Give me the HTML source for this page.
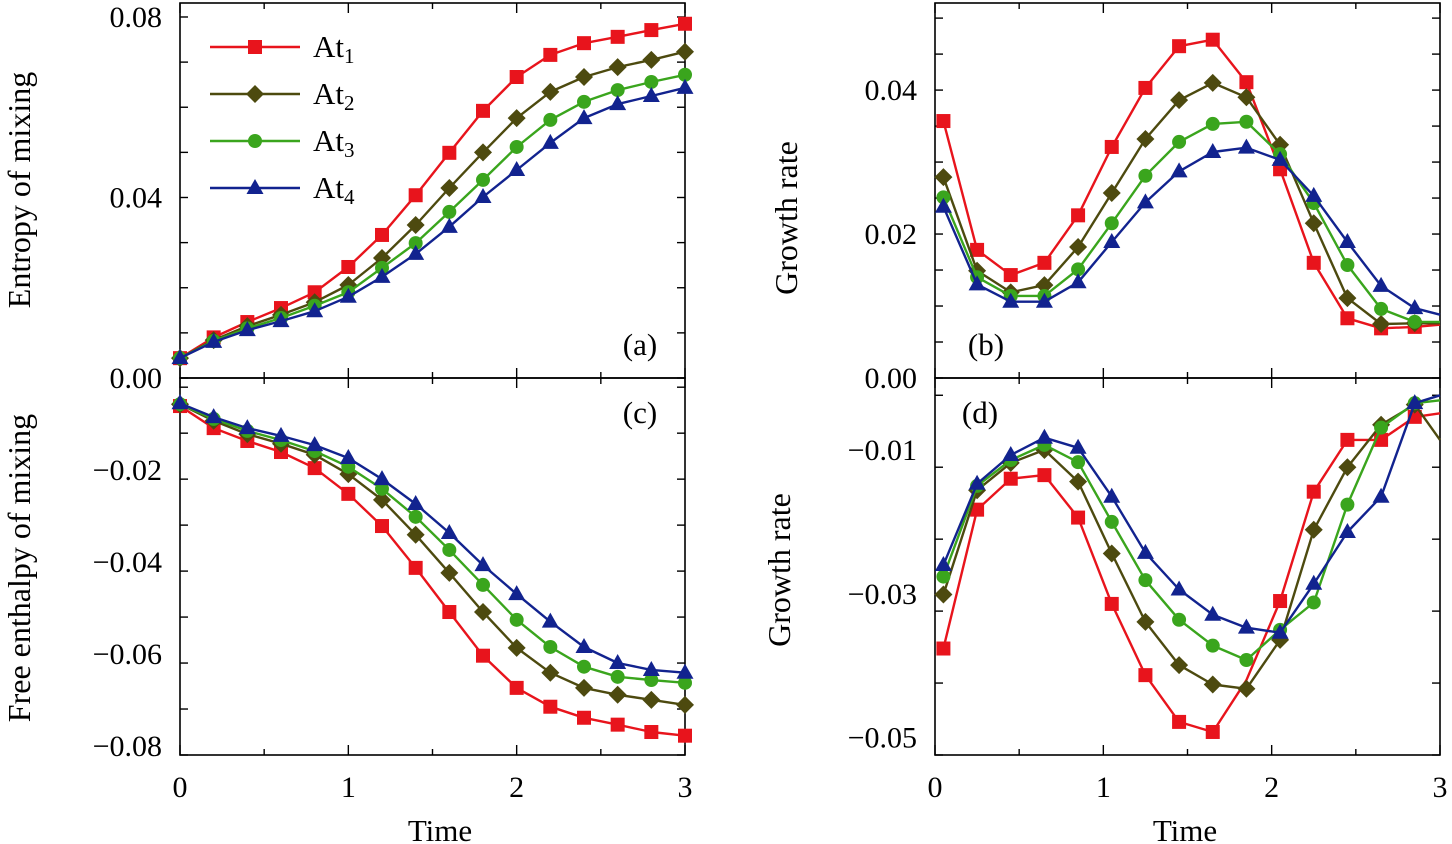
<!DOCTYPE html>
<html><head><meta charset="utf-8">
<style>
html,body{margin:0;padding:0;background:#fff;}
svg{display:block;font-family:"Liberation Serif",serif;}
</style></head>
<body>
<svg id="chart" width="1452" height="844" viewBox="0 0 1452 844" xmlns="http://www.w3.org/2000/svg"></svg>
<script>
const xsLeft = [0,0.2,0.4,0.6,0.8,1.0,1.2,1.4,1.6,1.8,2.0,2.2,2.4,2.6,2.8,3.0];
const xsRight = [0.05,0.25,0.45,0.65,0.85,1.05,1.25,1.45,1.65,1.85,2.05,2.25,2.45,2.65,2.85,3.0];
const seriesNames = ["At1","At2","At3","At4"];
const entropyAt1 = [0.0044,0.009,0.0124,0.0155,0.019,0.0246,0.0317,0.0405,0.0499,0.0592,0.0667,0.0716,0.0742,0.0756,0.0771,0.0785];
const entropyAt2 = [0.0044,0.0084,0.0115,0.014,0.0168,0.0206,0.0266,0.0339,0.0421,0.05,0.0576,0.0634,0.0667,0.0689,0.0705,0.0723];
const entropyAt3 = [0.0044,0.0082,0.011,0.0133,0.016,0.019,0.0244,0.0299,0.0368,0.0439,0.0512,0.0572,0.0612,0.0638,0.0656,0.0672];
const entropyAt4 = [0.0044,0.008,0.0106,0.0126,0.0148,0.018,0.0224,0.0275,0.0335,0.0401,0.0461,0.0521,0.0576,0.0607,0.0625,0.0643];
const growthBAt1 = [0.0357,0.0178,0.0143,0.016,0.0226,0.0321,0.0403,0.0461,0.047,0.0411,0.029,0.016,0.0083,0.0069,0.0071,0.0074];
const growthBAt2 = [0.0279,0.0149,0.0119,0.0129,0.0182,0.0257,0.0332,0.0386,0.041,0.039,0.0324,0.0215,0.0111,0.0075,0.0076,0.0076];
const growthBAt3 = [0.0251,0.014,0.0114,0.0114,0.0151,0.0215,0.0281,0.0328,0.0353,0.0356,0.0311,0.0243,0.0157,0.0096,0.0078,0.0078];
const growthBAt4 = [0.0238,0.013,0.0106,0.0106,0.0133,0.0189,0.0244,0.0287,0.0314,0.032,0.0303,0.0253,0.0189,0.0128,0.0097,0.0088];
const enthalpyAt1 = [-0.0061,-0.0109,-0.0137,-0.0161,-0.0196,-0.0252,-0.0322,-0.0413,-0.0509,-0.0604,-0.0674,-0.0715,-0.0739,-0.0754,-0.077,-0.0778];
const enthalpyAt2 = [-0.0057,-0.0093,-0.0122,-0.0143,-0.0167,-0.0209,-0.0265,-0.0341,-0.0424,-0.0509,-0.0587,-0.0641,-0.0674,-0.0689,-0.07,-0.0711];
const enthalpyAt3 = [-0.0057,-0.0089,-0.0115,-0.0135,-0.0159,-0.0193,-0.0241,-0.0302,-0.0374,-0.045,-0.0526,-0.0585,-0.0628,-0.065,-0.0657,-0.0663];
const enthalpyAt4 = [-0.0055,-0.0085,-0.0109,-0.0126,-0.0146,-0.0174,-0.022,-0.0274,-0.0337,-0.0407,-0.047,-0.053,-0.0585,-0.062,-0.0635,-0.0641];
const growthDAt1 = [-0.0376,-0.0183,-0.014,-0.0135,-0.0194,-0.0314,-0.0413,-0.0478,-0.0492,-0.042,-0.0310,-0.0158,-0.0086,-0.0086,-0.0054,-0.0049];
const growthDAt2 = [-0.0301,-0.0156,-0.0118,-0.01,-0.0144,-0.0244,-0.0339,-0.0399,-0.0426,-0.0432,-0.0364,-0.0211,-0.0124,-0.0065,-0.0037,-0.0086];
const growthDAt3 = [-0.0276,-0.015,-0.0114,-0.0093,-0.0117,-0.02,-0.0281,-0.0336,-0.0372,-0.0392,-0.035,-0.0312,-0.0176,-0.0069,-0.0035,-0.0031];
const growthDAt4 = [-0.026,-0.0147,-0.0107,-0.0083,-0.0097,-0.0165,-0.0243,-0.0294,-0.0329,-0.0347,-0.0354,-0.0286,-0.0214,-0.0165,-0.0035,-0.0024];
const xTickLabels = ["0","1","2","3"];
const yTicksA = ["0.00","0.04","0.08"];
const yTicksB = ["0.00","0.02","0.04"];
const yTicksC = ["\u22120.02","\u22120.04","\u22120.06","\u22120.08"];
const yTicksD = ["\u22120.01","\u22120.03","\u22120.05"];

const colors = ["#e8141c","#4d4a0f","#3aa51d","#12238f"];
const NS = "http://www.w3.org/2000/svg";
const svg = document.getElementById("chart");
function el(tag, attrs, parent){
  const e = document.createElementNS(NS, tag);
  for (const k in attrs) e.setAttribute(k, attrs[k]);
  (parent||svg).appendChild(e);
  return e;
}
function panel(cfg){
  const g = el("g", {});
  
  
  const sx = v => cfg.x0 + (v - 0) / 3 * (cfg.x1 - cfg.x0);
  const sy = v => cfg.y1 - (v - cfg.ymin) / (cfg.ymax - cfg.ymin) * (cfg.y1 - cfg.y0);
  const fr = el("rect", {x:cfg.x0, y:cfg.y0, width:cfg.x1-cfg.x0, height:cfg.y1-cfg.y0, fill:"none", stroke:"#000", "stroke-width":1.6}, g);
  
  
  for (let t = 0; t <= 3.001; t += 0.5) {
    const X = sx(t); const L = (Math.abs(t - Math.round(t)) < 1e-6) ? 10 : 6;
    el("line", {x1:X, x2:X, y1:cfg.y1, y2:cfg.y1-L, stroke:"#000", "stroke-width":1.4}, g);
    el("line", {x1:X, x2:X, y1:cfg.y0, y2:cfg.y0+L, stroke:"#000", "stroke-width":1.4}, g);
  }
  for (let v = cfg.ymin; v <= cfg.ymax + 1e-9; v += cfg.minor) {
    const Y = sy(v);
    el("line", {x1:cfg.x0, x2:cfg.x0+8, y1:Y, y2:Y, stroke:"#000", "stroke-width":1.4}, g);
    el("line", {x1:cfg.x1, x2:cfg.x1-8, y1:Y, y2:Y, stroke:"#000", "stroke-width":1.4}, g);
  }
  cfg.yLabels.forEach((lab, i) => {
    const v = cfg.yLabelVals[i];
    const t = el("text", {x:cfg.x0-18, y:sy(v)+10, "text-anchor":"end", "font-size":30}, g);
    t.textContent = lab;
    
    
  });
  if (cfg.xLabels) {
    xTickLabels.forEach((lab, i) => {
      const t = el("text", {x:sx(i), y:cfg.y1+42, "text-anchor":"middle", "font-size":30}, g);
      t.textContent = lab;
      
      
    });
  }
  cfg.series.forEach((vals, si) => {
    const xs = cfg.xs;
    const pts = vals.map((v, i) => sx(xs[i]).toFixed(1) + "," + sy(v).toFixed(1)).join(" ");
    const sg = el("g", {}, g);
    
    
    el("polyline", {points:pts, fill:"none", stroke:colors[si], "stroke-width":2.4, "stroke-linejoin":"round"}, sg);
    const skip = (cfg.skip && cfg.skip[si]) || [];
    for (let i = 0; i < cfg.markerCount; i++) {
      if (skip.indexOf(i) >= 0) continue;
      const m = drawMarker(si, sx(xs[i]), sy(vals[i]), sg);
      
      
    }
  });
  return {sx, sy, g};
}
function drawMarker(si, X, Y, parent){
  const c = colors[si];
  if (si === 0) return el("rect", {x:X-7, y:Y-7, width:14, height:14, fill:c}, parent);
  if (si === 1) return el("polygon", {points:`${X},${Y-9} ${X+9},${Y} ${X},${Y+9} ${X-9},${Y}`, fill:c}, parent);
  if (si === 2) return el("circle", {cx:X, cy:Y, r:7, fill:c}, parent);
  return el("polygon", {points:`${X},${Y-9} ${X+8.5},${Y+6} ${X-8.5},${Y+6}`, fill:c}, parent);
}
function label(txt, x, y, name, rot, size){
  const t = el("text", {x:x, y:y, "text-anchor":"middle", "font-size":size||31});
  if (rot) t.setAttribute("transform", `rotate(-90 ${x} ${y})`);
  t.textContent = txt;
  
  
  return t;
}

panel({name:"panel-a", x0:180, x1:685, y0:3, y1:378, ymin:0, ymax:0.0831, minor:0.01,
  yLabels:yTicksA, yLabelVals:[0,0.04,0.08], xs:xsLeft, markerCount:16,
  series:[entropyAt1,entropyAt2,entropyAt3,entropyAt4]});
panel({name:"panel-b", x0:935, x1:1440, y0:3, y1:378, ymin:0, ymax:0.0521, minor:0.005,
  yLabels:yTicksB, yLabelVals:[0,0.02,0.04], xs:xsRight, markerCount:15,
  series:[growthBAt1,growthBAt2,growthBAt3,growthBAt4]});
panel({name:"panel-c", x0:180, x1:685, y0:378, y1:755, ymin:-0.082, ymax:0, minor:0.01,
  yLabels:yTicksC, yLabelVals:[-0.02,-0.04,-0.06,-0.08], xs:xsLeft, markerCount:16, xLabels:true,
  series:[enthalpyAt1,enthalpyAt2,enthalpyAt3,enthalpyAt4]});
panel({name:"panel-d", x0:935, x1:1440, y0:378, y1:755, ymin:-0.0524, ymax:0, minor:0.01,
  yLabels:yTicksD, yLabelVals:[-0.01,-0.03,-0.05], xs:xsRight, markerCount:15, xLabels:true,
  skip:{0:[9]},
  series:[growthDAt1,growthDAt2,growthDAt3,growthDAt4]});

label("(a)", 640, 355, "panel-label-a");
label("(b)", 986, 355, "panel-label-b");
label("(c)", 640, 423, "panel-label-c");
label("(d)", 980, 423, "panel-label-d");
label("Entropy of mixing", 30, 190, "y-axis-title-a", true, 32);
label("Free enthalpy of mixing", 30, 568, "y-axis-title-c", true, 32);
label("Growth rate", 797, 218, "y-axis-title-b", true, 32);
label("Growth rate", 790, 570, "y-axis-title-d", true, 32);
label("Time", 440, 841, "x-axis-title-left");
label("Time", 1185, 841, "x-axis-title-right");

const lg = el("g", {});


[47, 94, 141, 188].forEach((Y, i) => {
  const eg = el("g", {}, lg);
  
  
  el("line", {x1:210, x2:300, y1:Y, y2:Y, stroke:colors[i], "stroke-width":2.4}, eg);
  drawMarker(i, 255, Y, eg);
  const t = el("text", {x:313, y:Y+10, "font-size":31}, eg);
  t.textContent = "At";
  const s = el("tspan", {"font-size":21, dy:6}, t);
  s.textContent = String(i+1);
});
</script>
</body></html>
